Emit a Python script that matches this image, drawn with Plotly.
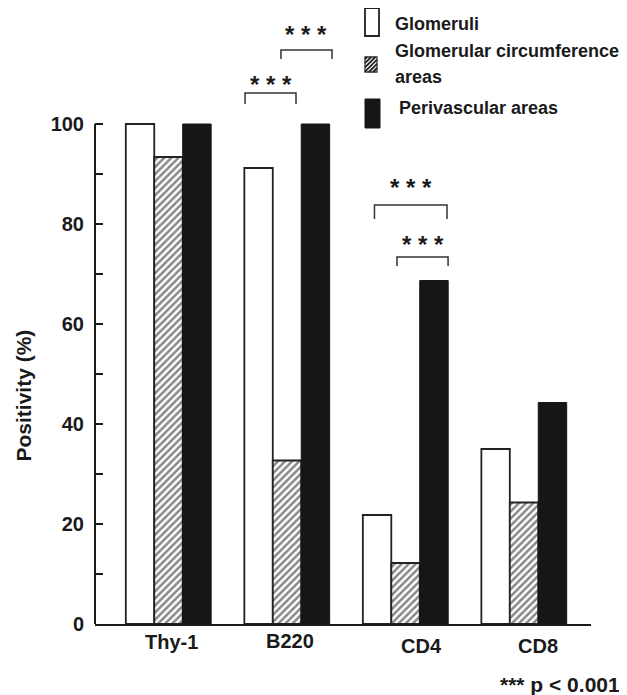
import plotly.graph_objects as go

# ---------------- data ----------------
categories = ["Thy-1", "B220", "CD4", "CD8"]
glomeruli = [100, 91.2, 21.8, 35.0]
circumference = [93.4, 32.7, 12.2, 24.3]
perivascular = [100, 100, 68.7, 44.3]
series_names = ["Glomeruli", "Glomerular circumference areas", "Perivascular areas"]
y_tick_values = [0, 20, 40, 60, 80, 100]
y_minor_values = [10, 30, 50, 70, 90]
y_title = "Positivity (%)"
sig_text = "* * *"
sig_note = "*** p < 0.001"

# significance brackets: category index, left/right offset (category units), top, leg end, star level
brackets = [
    dict(cat=1, left=-0.354, right=0.076, top=106.2, leg=104.0, star=109.0),
    dict(cat=1, left=-0.051, right=0.380, top=114.8, leg=113.0, star=118.9),
    dict(cat=2, left=-0.262, right=0.350, top=83.8, leg=81.0, star=88.2),
    dict(cat=2, left=-0.072, right=0.359, top=73.4, leg=71.6, star=77.0),
]

# ---------------- geometry helpers ----------------
OFF = 8  # page body margin
W, H = 627 - OFF, 695 - OFF
ML, MR, MT, MB = 95 - OFF, 36, 121 - OFF, 71
PW, PH = W - ML - MR, H - MT - MB
XMIN, XMAX = -0.62, 3.565
YMAX = 100.6
FONT = "Liberation Sans, Arial, Helvetica, sans-serif"
INK = "#1a1a1a"


def xp(v):
    return (v - XMIN) / (XMAX - XMIN)


def yp(v):
    return v / YMAX


def pxx(p):  # page pixel -> paper x
    return (p - OFF - ML) / PW


def pxy(p):  # page pixel -> paper y
    return (MT + PH - (p - OFF)) / PH


xs = list(range(len(categories)))

fig = go.Figure()
fig.add_trace(go.Bar(
    x=xs, y=glomeruli, name=series_names[0],
    marker=dict(color="white", line=dict(color="#222222", width=1.8)),
))
fig.add_trace(go.Bar(
    x=xs, y=circumference, name=series_names[1],
    marker=dict(color="white", line=dict(color="#222222", width=1.8),
                pattern=dict(shape="/", fgcolor="#111111", bgcolor="white",
                             size=5, solidity=0.5)),
))
fig.add_trace(go.Bar(
    x=xs, y=perivascular, name=series_names[2],
    marker=dict(color="#161616", line=dict(color="#161616", width=1)),
))

shapes = []
annotations = []

# y axis line (0..100 only)
shapes.append(dict(type="line", xref="paper", yref="paper", x0=0, x1=0,
                   y0=yp(0), y1=yp(100), line=dict(color=INK, width=2)))

# category labels
label_xshift = [3, 3, 16, 14]
label_ypx = [642, 641, 646, 646]
for i, c in enumerate(categories):
    annotations.append(dict(text=c, x=xp(xs[i]), y=pxy(label_ypx[i]), xref="paper", yref="paper",
                            xanchor="center", yanchor="middle", showarrow=False, xshift=label_xshift[i],
                            font=dict(family=FONT, size=20, color=INK, weight="bold")))

# y title
annotations.append(dict(text=y_title, x=pxx(22.5), y=pxy(396), xref="paper", yref="paper",
                        textangle=-90, showarrow=False, xanchor="center", yanchor="middle",
                        font=dict(family=FONT, size=21, color=INK, weight="bold")))

# p-value note
annotations.append(dict(text=sig_note, x=pxx(622), y=pxy(684), xref="paper", yref="paper",
                        xanchor="right", yanchor="middle", showarrow=False,
                        font=dict(family=FONT, size=21, color=INK, weight="bold")))

# brackets with stars
for b in brackets:
    x0 = xp(b["cat"] + b["left"])
    x1 = xp(b["cat"] + b["right"])
    path = f"M{x0},{yp(b['leg'])} L{x0},{yp(b['top'])} L{x1},{yp(b['top'])} L{x1},{yp(b['leg'])}"
    shapes.append(dict(type="path", xref="paper", yref="paper", path=path,
                       line=dict(color="#333333", width=1.5)))
    annotations.append(dict(text=sig_text, x=(x0 + x1) / 2, y=yp(b["star"]), xref="paper", yref="paper",
                            xanchor="center", yanchor="middle", showarrow=False, yshift=-5,
                            font=dict(family=FONT, size=24, color=INK, weight="bold")))

# ---------------- legend (manual) ----------------
def rect_px(x0, x1, y0, y1, fill, lw, lc):
    shapes.append(dict(type="rect", xref="paper", yref="paper",
                       x0=pxx(x0), x1=pxx(x1), y0=pxy(y1), y1=pxy(y0),
                       fillcolor=fill, line=dict(color=lc, width=lw)))

rect_px(365, 379, 8, 36, "white", 1.8, "#222222")
# hatched icon
a, b_, c, d = 365, 377, 57, 72
rect_px(a, b_, c, d, "white", 1.3, "#333333")
segs = []
k = a + c + 2
step = 4.2
while k < b_ + d:
    xa = max(a, k - d)
    xb = min(b_, k - c)
    if xb > xa:
        segs.append(f"M{pxx(xa)},{pxy(k - xa)} L{pxx(xb)},{pxy(k - xb)}")
    k += step
shapes.append(dict(type="path", xref="paper", yref="paper", path=" ".join(segs),
                   line=dict(color="#222222", width=1.8)))
rect_px(365, 380, 99, 128, "#161616", 1, "#161616")

legend_text = [
    (series_names[0], 393, 23.7),
    ("Glomerular circumference", 393, 50.8),
    ("areas", 393, 77.5),
    (series_names[2], 397, 107.5),
]
for t, x, y in legend_text:
    annotations.append(dict(text=t, x=pxx(x), y=pxy(y), xref="paper", yref="paper",
                            xanchor="left", yanchor="middle", showarrow=False,
                            font=dict(family=FONT, size=18, color=INK, weight="bold")))

fig.update_layout(
    width=W, height=H,
    margin=dict(l=ML, r=MR, t=MT, b=MB, pad=0),
    paper_bgcolor="white", plot_bgcolor="white",
    barmode="group", bargap=0.28, bargroupgap=0,
    showlegend=False,
    shapes=shapes, annotations=annotations,
    xaxis=dict(range=[XMIN, XMAX], showline=True, linecolor=INK, linewidth=2,
               showticklabels=False, ticks="", showgrid=False, zeroline=False),
    yaxis=dict(range=[0, YMAX], tickmode="array", tickvals=y_tick_values,
               ticks="inside", ticklen=8, tickwidth=2, tickcolor=INK,
               minor=dict(tickmode="array", tickvals=y_minor_values, ticks="inside",
                          ticklen=8, tickwidth=2, tickcolor=INK, showgrid=False),
               showgrid=False, zeroline=False, showline=False, ticklabelstandoff=10,
               tickfont=dict(family=FONT, size=20, color=INK, weight="bold")),
)

fig.write_html("out.html")
